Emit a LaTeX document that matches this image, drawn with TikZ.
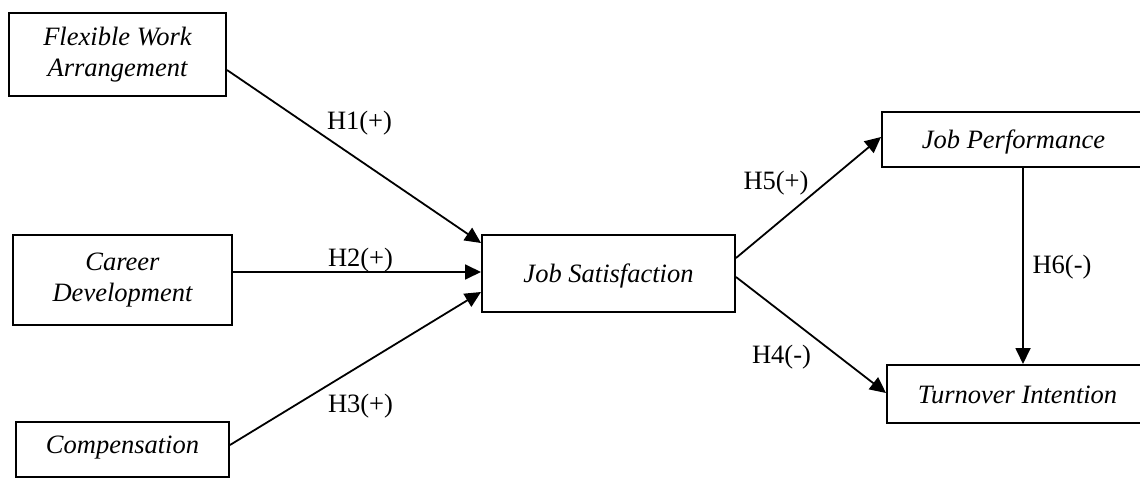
\documentclass[tikz,border=0pt]{standalone}
\usepackage{fontspec}
\setmainfont{Liberation Serif}
\usetikzlibrary{arrows.meta}
\begin{document}
\begin{tikzpicture}[x=1pt,y=-1pt,
  box/.style={draw, line width=2pt, inner sep=0pt,
    font=\fontsize{26.5}{31}\selectfont\itshape, align=center},
  one/.style={text height=18pt, text depth=0pt},
  arr/.style={line width=1.8pt, -{Triangle[length=16pt,width=15pt]}},
  hyp/.style={anchor=base, inner sep=0pt, font=\fontsize{26.5}{31}\selectfont}]
\useasboundingbox (0,0) rectangle (1140,478);

\node[box, minimum width=217pt, minimum height=83pt] (fwa) at (117.5,54.5) {Flexible Work\\Arrangement};
\node[box, minimum width=219pt, minimum height=90pt] (cd) at (122.5,280) {Career\\Development};
\node[box, minimum width=213pt, minimum height=55pt, text height=18pt, text depth=11pt] (comp) at (122.5,449.5) {Compensation};
\node[box, one, minimum width=253pt, minimum height=77pt] (js) at (608.5,273.5) {Job Satisfaction};
\node[box, one, minimum width=263pt, minimum height=55pt] (jp) at (1013.5,139.5) {Job Performance};
\node[box, one, minimum width=261pt, minimum height=58pt] (ti) at (1017.5,394) {Turnover Intention};

\draw[arr] (fwa.east |- 0,70) -- (js.west |- 0,243);
\draw[arr] (cd.east |- 0,272) -- (js.west |- 0,272);
\draw[arr] (comp.east |- 0,445) -- (js.west |- 0,292);
\draw[arr] (js.east |- 0,258) -- (jp.west |- 0,137);
\draw[arr] (js.east |- 0,277) -- (ti.west |- 0,393);
\draw[arr] (1023,0 |- jp.south) -- (1023,0 |- ti.north);

\node[hyp] (h1) at (359.5,130) {H1(+)};
\node[hyp] (h2) at (360.5,266) {H2(+)};
\node[hyp] (h3) at (360.5,412) {H3(+)};
\node[hyp] (h5) at (776,190) {H5(+)};
\node[hyp] (h4) at (781.5,363) {H4(-)};
\node[hyp] (h6) at (1062,273) {H6(-)};
\end{tikzpicture}
\end{document}
